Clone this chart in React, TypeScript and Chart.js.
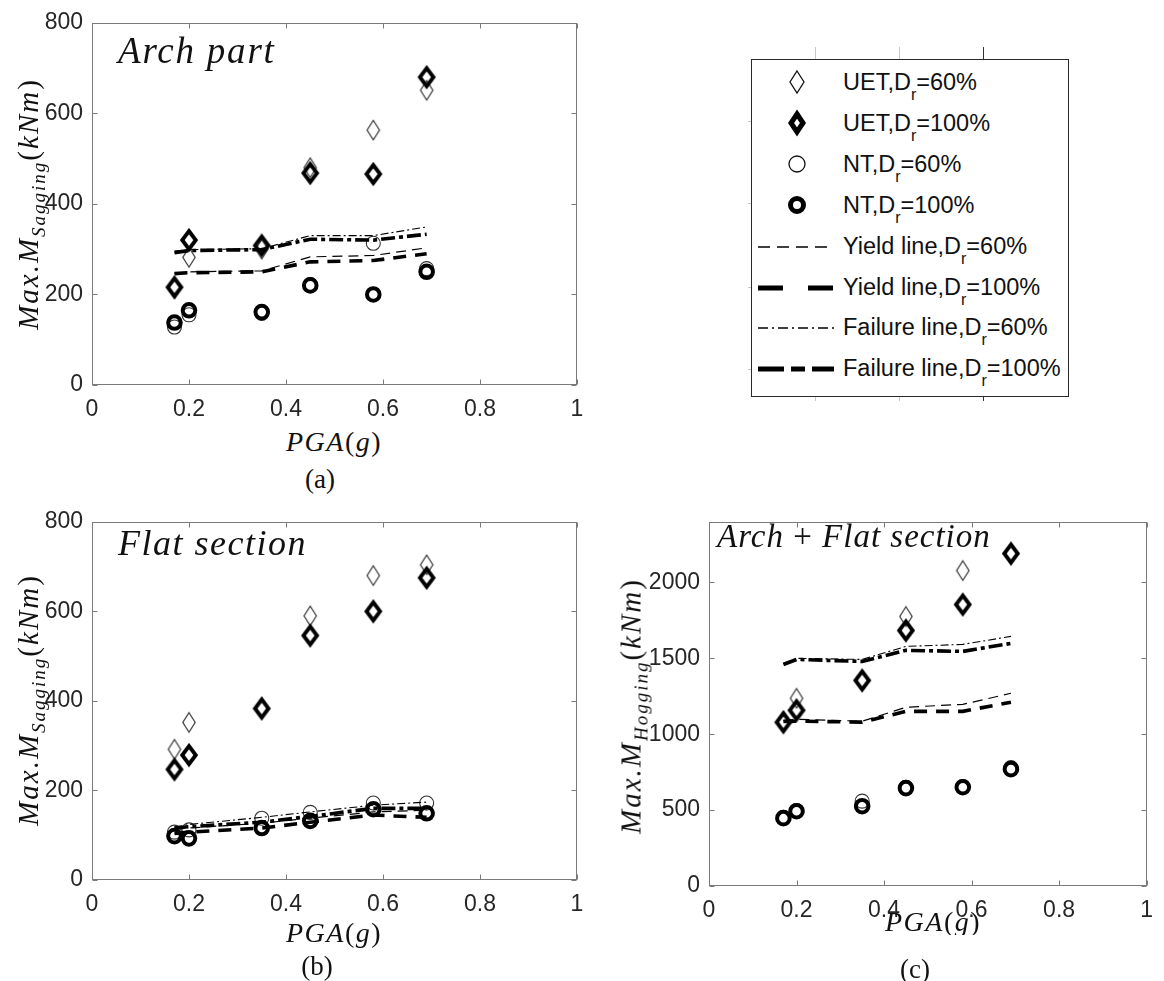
import React, { useEffect, useRef } from "react";
import { Chart, registerables } from "chart.js";

Chart.register(...registerables);

// ---------------- data ----------------
const PGA_VALUES = [0.17, 0.2, 0.35, 0.45, 0.58, 0.69];
const X_TICKS = [0, 0.2, 0.4, 0.6, 0.8, 1];
const Y_TICKS_SAGGING = [0, 200, 400, 600, 800];
const Y_TICKS_HOGGING = [0, 500, 1000, 1500, 2000];
const Y_MAX_SAGGING = 800;
const Y_MAX_HOGGING = 2400;

// (a) Arch part
const A_UET60 = [213, 282, 300, 480, 563, 651];
const A_UET100 = [216, 320, 308, 468, 466, 680];
const A_NT60 = [128, 155, 158, 222, 313, 257];
const A_NT100 = [138, 165, 161, 220, 200, 250];
const A_YIELD60 = [247, 250, 252, 283, 286, 303];
const A_YIELD100 = [246, 248, 250, 272, 275, 290];
const A_FAIL60 = [296, 299, 301, 330, 330, 349];
const A_FAIL100 = [292, 297, 299, 322, 320, 333];

// (b) Flat section
const B_UET60 = [292, 352, 385, 590, 680, 704];
const B_UET100 = [247, 279, 383, 546, 600, 675];
const B_NT60 = [107, 112, 138, 151, 172, 172];
const B_NT100 = [98, 93, 116, 132, 158, 149];
const B_YIELD60 = [113, 116, 127, 138, 152, 156];
const B_YIELD100 = [104, 107, 116, 129, 145, 140];
const B_FAIL60 = [118, 124, 140, 152, 167, 174];
const B_FAIL100 = [116, 119, 129, 142, 160, 160];

// (c) Arch + Flat section
const C_UET60 = [1085, 1237, 1350, 1776, 2079, 2185];
const C_UET100 = [1079, 1158, 1355, 1684, 1855, 2191];
const C_NT60 = [452, 497, 559, 650, 655, 780];
const C_NT100 = [447, 493, 526, 645, 651, 770];
const C_YIELD60 = [1090, 1099, 1086, 1178, 1197, 1270];
const C_YIELD100 = [1085, 1086, 1080, 1151, 1151, 1211];
const C_FAIL60 = [1467, 1500, 1493, 1579, 1592, 1645];
const C_FAIL100 = [1460, 1493, 1480, 1553, 1546, 1599];

const LEGEND_PREFIX = ["UET,", "UET,", "NT,", "NT,", "Yield line,", "Yield line,", "Failure line,", "Failure line,"];
const LEGEND_DR = ["60%", "100%", "60%", "100%", "60%", "100%", "60%", "100%"];

// ---------------- styling helpers ----------------
const SERIF = '"Liberation Serif", "Times New Roman", serif';
const SANS = '"Liberation Sans", Arial, sans-serif';
const AXIS_COLOR = "#7a7a7a";
const Y_AXIS_W = 70;
const X_AXIS_H = 40;
const PAD_TOP = 22;

function diamondImage(hw: number, hh: number, lw: number, color: string) {
  const pad = Math.ceil(lw) + 3;
  const w = Math.round(2 * hw + 2 * pad);
  const h = Math.round(2 * hh + 2 * pad);
  const c = document.createElement("canvas");
  c.width = w;
  c.height = h;
  const ctx = c.getContext("2d")!;
  ctx.strokeStyle = color;
  ctx.lineWidth = lw;
  ctx.lineJoin = "miter";
  ctx.miterLimit = 4;
  ctx.beginPath();
  ctx.moveTo(w / 2, h / 2 - hh);
  ctx.lineTo(w / 2 + hw, h / 2);
  ctx.lineTo(w / 2, h / 2 + hh);
  ctx.lineTo(w / 2 - hw, h / 2);
  ctx.closePath();
  ctx.stroke();
  return c;
}

const axesBoxPlugin = {
  id: "axesBox",
  afterDraw(chart: any) {
    const { ctx, chartArea: a, scales } = chart;
    const xs = scales.x;
    const ys = scales.y;
    ctx.save();
    ctx.strokeStyle = AXIS_COLOR;
    ctx.lineWidth = 1;
    const L = Math.round(a.left) + 0.5;
    const T = Math.round(a.top) + 0.5;
    const R = Math.round(a.right) - 0.5;
    const B = Math.round(a.bottom) - 0.5;
    ctx.strokeRect(L, T, R - L, B - T);
    const tl = 5;
    ctx.beginPath();
    xs.ticks.forEach((t: any) => {
      const px = Math.round(xs.getPixelForValue(t.value)) + 0.5;
      ctx.moveTo(px, B);
      ctx.lineTo(px, B - tl);
      ctx.moveTo(px, T);
      ctx.lineTo(px, T + tl);
    });
    ys.ticks.forEach((t: any) => {
      const py = Math.round(ys.getPixelForValue(t.value)) + 0.5;
      ctx.moveTo(L, py);
      ctx.lineTo(L + tl, py);
      ctx.moveTo(R, py);
      ctx.lineTo(R - tl, py);
    });
    ctx.stroke();
    ctx.restore();
  },
};

type PanelSpec = {
  plotLeft: number;
  plotTop: number;
  plotW: number;
  plotH: number;
  padRight: number;
  yTicks: number[];
  yMax: number;
  uet60: number[];
  uet100: number[];
  nt60: number[];
  nt100: number[];
  yield60: number[];
  yield100: number[];
  fail60: number[];
  fail100: number[];
};

const pts = (ys: number[]) => PGA_VALUES.map((x, i) => ({ x, y: ys[i] }));

function Panel({ spec }: { spec: PanelSpec }) {
  const ref = useRef<HTMLCanvasElement>(null);
  const width = Y_AXIS_W + spec.plotW + spec.padRight;
  const height = PAD_TOP + spec.plotH + X_AXIS_H;

  useEffect(() => {
    const thinDiamond = diamondImage(6.2, 9.8, 1.1, "#222");
    const thickDiamond = diamondImage(6.8, 9, 3.8, "#000");
    const lineDs = (label: string, ys: number[], bw: number, dash: number[], order: number) => ({
      type: "line" as const,
      label,
      data: pts(ys),
      showLine: true,
      borderColor: "#000",
      backgroundColor: "#000",
      borderWidth: bw,
      borderDash: dash,
      pointRadius: 0,
      fill: false,
      tension: 0,
      order,
    });
    const chart = new Chart(ref.current!, {
      type: "scatter",
      data: {
        datasets: [
          { label: "UET60", data: pts(spec.uet60), pointStyle: thinDiamond as any, pointRadius: 10, order: 8 },
          { label: "UET100", data: pts(spec.uet100), pointStyle: thickDiamond as any, pointRadius: 10, order: 7 },
          {
            label: "NT60",
            data: pts(spec.nt60),
            pointStyle: "circle",
            pointRadius: 7,
            pointBorderWidth: 1.1,
            pointBorderColor: "#333",
            pointBackgroundColor: "rgba(0,0,0,0)",
            order: 6,
          },
          {
            label: "NT100",
            data: pts(spec.nt100),
            pointStyle: "circle",
            pointRadius: 6.3,
            pointBorderWidth: 4,
            pointBorderColor: "#000",
            pointBackgroundColor: "rgba(0,0,0,0)",
            order: 5,
          },
          lineDs("Yield60", spec.yield60, 1.2, [10, 6], 4),
          lineDs("Yield100", spec.yield100, 3.6, [13, 9], 3),
          lineDs("Fail60", spec.fail60, 1.1, [8, 3, 2, 3], 2),
          lineDs("Fail100", spec.fail100, 3.6, [14, 4, 4, 4], 1),
        ] as any,
      },
      options: {
        animation: false,
        responsive: false,
        maintainAspectRatio: false,
        layout: { padding: { top: PAD_TOP, right: spec.padRight, left: 0, bottom: 0 } },
        plugins: { legend: { display: false }, tooltip: { enabled: false } },
        scales: {
          x: {
            type: "linear",
            min: 0,
            max: 1,
            grid: { display: false, drawTicks: false },
            border: { display: false },
            afterBuildTicks: (s: any) => {
              s.ticks = X_TICKS.map((v) => ({ value: v }));
            },
            afterFit: (s: any) => {
              s.height = X_AXIS_H;
            },
            ticks: {
              padding: 11,
              color: "#262626",
              font: { family: SANS, size: 23 },
              maxRotation: 0,
              autoSkip: false,
              callback: (v: any) => String(Number(Number(v).toFixed(1))),
            },
          },
          y: {
            type: "linear",
            min: 0,
            max: spec.yMax,
            grid: { display: false, drawTicks: false },
            border: { display: false },
            afterBuildTicks: (s: any) => {
              s.ticks = spec.yTicks.map((v) => ({ value: v }));
            },
            afterFit: (s: any) => {
              s.width = Y_AXIS_W;
            },
            ticks: {
              padding: 9,
              color: "#262626",
              font: { family: SANS, size: 23 },
              autoSkip: false,
              callback: (v: any) => String(v),
            },
          },
        },
      },
      plugins: [axesBoxPlugin],
    });
    return () => chart.destroy();
  }, []);

  return (
    <canvas
      ref={ref}
      width={width}
      height={height}
      style={{
        position: "absolute",
        left: spec.plotLeft - Y_AXIS_W,
        top: spec.plotTop - PAD_TOP,
        width,
        height,
      }}
    />
  );
}

function YTitle({ cx, cy, sub }: { cx: number; cy: number; sub: string }) {
  return (
    <div
      style={{
        position: "absolute",
        left: cx,
        top: cy,
        transform: "translate(-50%,-50%) rotate(-90deg)",
        whiteSpace: "nowrap",
        fontFamily: SERIF,
        fontStyle: "italic",
        fontSize: 29,
        letterSpacing: 2,
        color: "#111",
        lineHeight: 1,
      }}
    >
      Max.M
      <span style={{ fontSize: 19, position: "relative", top: 7 }}>{sub}</span>
      <span style={{ fontStyle: "normal" }}>(</span>kNm<span style={{ fontStyle: "normal" }}>)</span>
    </div>
  );
}

function XTitle({ cx, cy, clipBottom }: { cx: number; cy: number; clipBottom?: number }) {
  const h = 34;
  const top = cy - h / 2;
  return (
    <div
      style={{
        position: "absolute",
        left: cx - 80,
        top,
        width: 160,
        height: clipBottom ? clipBottom - top : h,
        overflow: "hidden",
        textAlign: "center",
        fontFamily: SERIF,
        fontStyle: "italic",
        fontSize: 28,
        letterSpacing: 1.5,
        lineHeight: `${h}px`,
        color: "#111",
        whiteSpace: "nowrap",
      }}
    >
      PGA<span style={{ fontStyle: "normal" }}>(</span>g<span style={{ fontStyle: "normal" }}>)</span>
    </div>
  );
}

function SubLabel({ cx, cy, text }: { cx: number; cy: number; text: string }) {
  return (
    <div
      style={{
        position: "absolute",
        left: cx - 40,
        top: cy - 16,
        width: 80,
        height: 32,
        lineHeight: "32px",
        textAlign: "center",
        fontFamily: SERIF,
        fontSize: 27,
        color: "#111",
      }}
    >
      {text}
    </div>
  );
}

function PanelTitle({
  left,
  baseline,
  size,
  spacing,
  children,
}: {
  left: number;
  baseline: number;
  size: number;
  spacing: number;
  children: any;
}) {
  return (
    <div
      style={{
        position: "absolute",
        left,
        top: baseline - size * 0.84,
        fontFamily: SERIF,
        fontStyle: "italic",
        fontSize: size,
        letterSpacing: spacing,
        lineHeight: 1,
        color: "#111",
        whiteSpace: "nowrap",
      }}
    >
      {children}
    </div>
  );
}

function LegendSample({ i }: { i: number }) {
  if (i < 4) {
    let shape: any;
    if (i === 0) shape = <polygon points="15,4 22,15 15,26 8,15" fill="none" stroke="#111" strokeWidth={1.3} />;
    if (i === 1)
      shape = <polygon points="15,6 21,15 15,24 9,15" fill="none" stroke="#000" strokeWidth={5} strokeMiterlimit={4} />;
    if (i === 2) shape = <circle cx={15} cy={15} r={8} fill="none" stroke="#111" strokeWidth={1.3} />;
    if (i === 3) shape = <circle cx={15} cy={15} r={6.5} fill="none" stroke="#000" strokeWidth={5} />;
    return (
      <svg width={30} height={30} style={{ position: "absolute", left: 797 - 752 - 15, top: -1 }}>
        {shape}
      </svg>
    );
  }
  const styles: Record<number, { w: number; dash: string }> = {
    4: { w: 1.5, dash: "12 7" },
    5: { w: 5, dash: "25 25" },
    6: { w: 1.5, dash: "10 4 2 4" },
    7: { w: 5, dash: "26 7 14 7" },
  };
  const s = styles[i];
  return (
    <svg width={76} height={28} style={{ position: "absolute", left: 758 - 752, top: 0 }}>
      <line x1={0} y1={15} x2={76} y2={15} stroke="#000" strokeWidth={s.w} strokeDasharray={s.dash} />
    </svg>
  );
}

function Legend() {
  const ticks = [
    { x: 815, c: "#c8c8c8" },
    { x: 899, c: "#c8c8c8" },
    { x: 983, c: "#333" },
  ];
  return (
    <>
      {ticks.map((t, k) => (
        <div key={"tt" + k} style={{ position: "absolute", left: t.x, top: 47, width: 1, height: 12, background: t.c }} />
      ))}
      {ticks.map((t, k) => (
        <div key={"tb" + k} style={{ position: "absolute", left: t.x, top: 396, width: 1, height: 5, background: t.c }} />
      ))}
      {[121, 203, 287, 369].map((y, k) => (
        <div key={"tl" + k} style={{ position: "absolute", left: 748, top: y, width: 3, height: 1, background: "#c8c8c8" }} />
      ))}
      <div
        style={{
          position: "absolute",
          left: 751,
          top: 59,
          width: 316,
          height: 336,
          border: "1px solid #2a2a2a",
          background: "#fff",
        }}
      >
        {LEGEND_PREFIX.map((p, i) => (
          <div key={i} style={{ position: "absolute", left: 0, top: 23 + i * 40.9 - 15, width: 316, height: 30 }}>
            <LegendSample i={i} />
            <div
              style={{
                position: "absolute",
                left: 843 - 752,
                top: -1,
                height: 30,
                lineHeight: "30px",
                fontFamily: SANS,
                fontSize: 23.5,
                color: "#111",
                whiteSpace: "nowrap",
              }}
            >
              {p}D<span style={{ fontSize: 16, position: "relative", top: 10 }}>r</span>={LEGEND_DR[i]}
            </div>
          </div>
        ))}
      </div>
    </>
  );
}

const PANEL_A: PanelSpec = {
  plotLeft: 92,
  plotTop: 22,
  plotW: 485,
  plotH: 363,
  padRight: 20,
  yTicks: Y_TICKS_SAGGING,
  yMax: Y_MAX_SAGGING,
  uet60: A_UET60,
  uet100: A_UET100,
  nt60: A_NT60,
  nt100: A_NT100,
  yield60: A_YIELD60,
  yield100: A_YIELD100,
  fail60: A_FAIL60,
  fail100: A_FAIL100,
};

const PANEL_B: PanelSpec = {
  plotLeft: 92,
  plotTop: 521,
  plotW: 485,
  plotH: 359,
  padRight: 20,
  yTicks: Y_TICKS_SAGGING,
  yMax: Y_MAX_SAGGING,
  uet60: B_UET60,
  uet100: B_UET100,
  nt60: B_NT60,
  nt100: B_NT100,
  yield60: B_YIELD60,
  yield100: B_YIELD100,
  fail60: B_FAIL60,
  fail100: B_FAIL100,
};

const PANEL_C: PanelSpec = {
  plotLeft: 709,
  plotTop: 521,
  plotW: 448,
  plotH: 365,
  padRight: 7,
  yTicks: Y_TICKS_HOGGING,
  yMax: Y_MAX_HOGGING,
  uet60: C_UET60,
  uet100: C_UET100,
  nt60: C_NT60,
  nt100: C_NT100,
  yield60: C_YIELD60,
  yield100: C_YIELD100,
  fail60: C_FAIL60,
  fail100: C_FAIL100,
};

export default function App() {
  return (
    <div
      style={{
        position: "absolute",
        left: 0,
        top: 0,
        width: 1164,
        height: 981,
        overflow: "hidden",
        background: "#fff",
      }}
    >
      <Panel spec={PANEL_A} />
      <Panel spec={PANEL_B} />
      <Panel spec={PANEL_C} />

      <PanelTitle left={118} baseline={63} size={37} spacing={1.8}>
        Arch part
      </PanelTitle>
      <PanelTitle left={118} baseline={555} size={36} spacing={1.5}>
        Flat section
      </PanelTitle>
      <PanelTitle left={717} baseline={548} size={33} spacing={1}>
        Arch <span style={{ fontStyle: "normal" }}>+</span> Flat section
      </PanelTitle>

      <YTitle cx={28} cy={204} sub="Sagging" />
      <YTitle cx={28} cy={700} sub="Sagging" />
      <YTitle cx={631} cy={706} sub="Hogging" />

      <XTitle cx={334} cy={442} />
      <XTitle cx={334} cy={933} />
      <XTitle cx={933} cy={922} clipBottom={935} />

      <SubLabel cx={320} cy={479} text="(a)" />
      <SubLabel cx={317} cy={966} text="(b)" />
      <SubLabel cx={915} cy={969} text="(c)" />

      <Legend />
    </div>
  );
}
